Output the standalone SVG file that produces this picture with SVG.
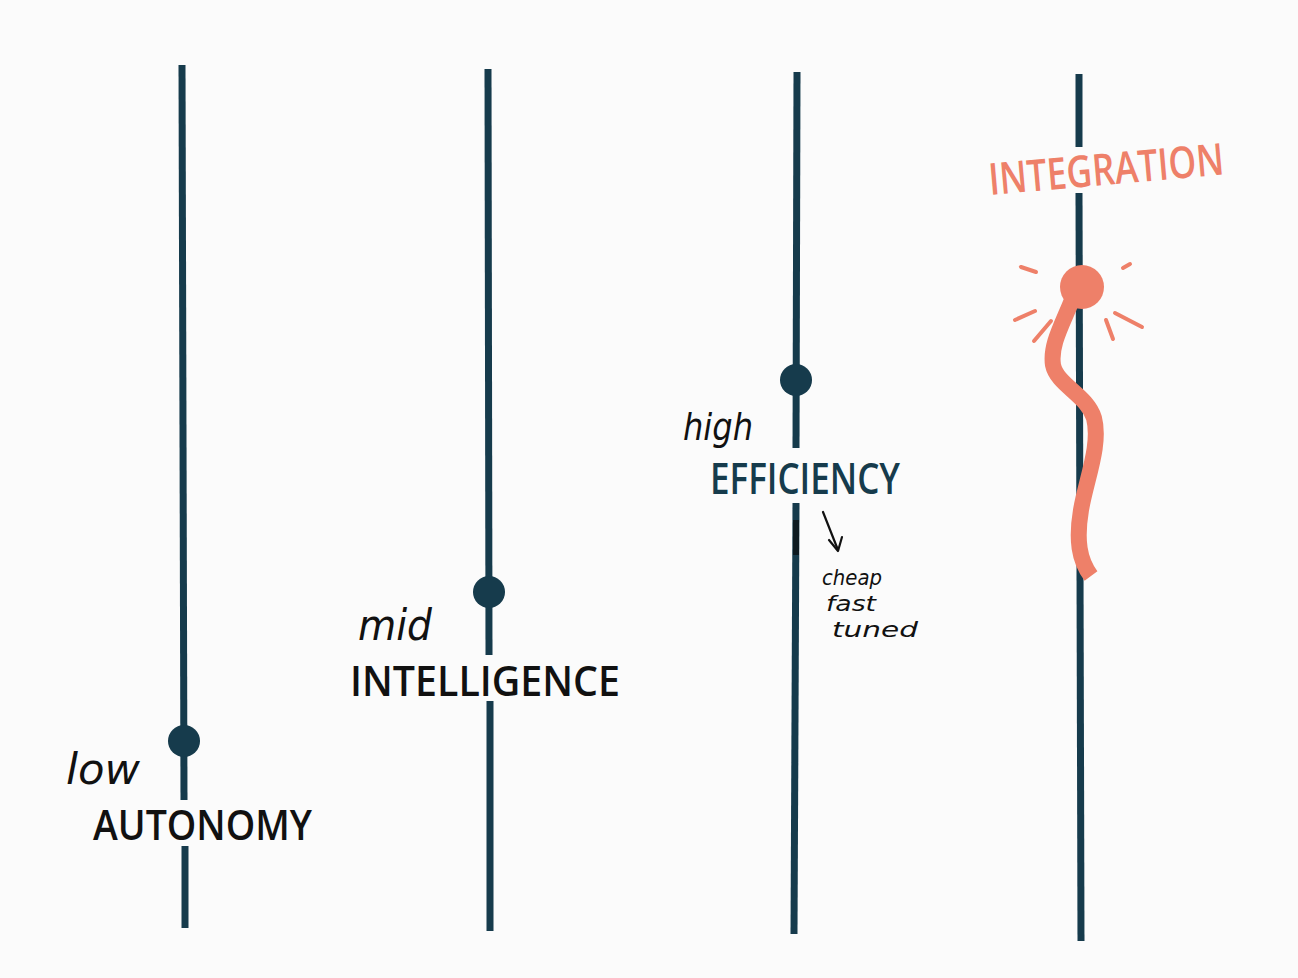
<svg xmlns="http://www.w3.org/2000/svg" width="1298" height="978" viewBox="0 0 1298 978">
<style>
.axis{stroke:#163b4c;stroke-width:7;stroke-linecap:butt;fill:none}
.dot{fill:#163b4c}
.hand{font-family:"DejaVu Sans",sans-serif;font-style:italic;fill:#111}
.caps{font-family:"Open Sans","Liberation Sans",sans-serif;font-weight:600;fill:#111}
.note{font-family:"DejaVu Sans",sans-serif;font-style:italic;fill:#111;font-size:22px}
.orange{stroke:#ee8069;stroke-linecap:round;fill:none}
</style>
<rect width="1298" height="978" fill="#fbfbfb"/>
<g id="connectors">
<line class="axis" x1="182" y1="65" x2="184" y2="800"/>
<line class="axis" x1="185" y1="846" x2="185" y2="928"/>
<line class="axis" x1="488" y1="69" x2="489" y2="655"/>
<line class="axis" x1="490" y1="701" x2="490" y2="931"/>
<line class="axis" x1="797" y1="72" x2="796" y2="448"/>
<line class="axis" x1="796" y1="503" x2="794" y2="934"/>
<line x1="796" y1="520" x2="796" y2="555" stroke="#0d1a20" stroke-width="6"/>
<line class="axis" x1="1079" y1="74" x2="1079" y2="147"/>
<line class="axis" x1="1079" y1="193" x2="1081" y2="941"/>
</g>
<g id="autonomy">
<circle class="dot" cx="184" cy="741" r="16"/>
<text class="hand" x="66" y="784" font-size="42" textLength="74" lengthAdjust="spacingAndGlyphs">low</text>
<text class="caps" x="93" y="840" font-size="42" textLength="219" lengthAdjust="spacingAndGlyphs">AUTONOMY</text>
</g>
<g id="intelligence">
<circle class="dot" cx="489" cy="592" r="16"/>
<text class="hand" x="358" y="640" font-size="42" textLength="74" lengthAdjust="spacingAndGlyphs">mid</text>
<text class="caps" x="350" y="696" font-size="42" textLength="270" lengthAdjust="spacingAndGlyphs">INTELLIGENCE</text>
</g>
<g id="efficiency">
<circle class="dot" cx="796" cy="380" r="16"/>
<text class="hand" x="683" y="440" font-size="38" textLength="70" lengthAdjust="spacingAndGlyphs">high</text>
<text class="caps" x="710" y="494" font-size="44" style="fill:#163b4c" textLength="190" lengthAdjust="spacingAndGlyphs">EFFICIENCY</text>
<line x1="823" y1="512" x2="838" y2="550" stroke="#111" stroke-width="2.2" stroke-linecap="round"/>
<polyline points="829,540 838,551 842,537" stroke="#111" stroke-width="2.2" fill="none" stroke-linecap="round" stroke-linejoin="round"/>
<text class="note" x="822" y="585" textLength="60" lengthAdjust="spacingAndGlyphs">cheap</text>
<text class="note" x="826" y="611" textLength="50" lengthAdjust="spacingAndGlyphs">fast</text>
<text class="note" x="832" y="637" textLength="86" lengthAdjust="spacingAndGlyphs">tuned</text>
</g>
<g id="integration">
<text x="990" y="195" transform="rotate(-5 990 195)" font-family="Open Sans, Liberation Sans, sans-serif" font-weight="600" font-size="44" fill="#ee8069" textLength="236" lengthAdjust="spacingAndGlyphs">INTEGRATION</text>
<path d="M1072,300 C1062,325 1050,345 1053,365 C1057,385 1087,395 1094,418 C1101,445 1086,480 1081,510 C1076,540 1079,560 1091,576" stroke="#ee8069" stroke-width="16" fill="none" stroke-linecap="butt"/>
<circle cx="1082" cy="287" r="22" fill="#ee8069"/>
<line class="orange" stroke-width="4" x1="1021" y1="267" x2="1036" y2="272"/>
<line class="orange" stroke-width="4" x1="1123" y1="268" x2="1130" y2="264"/>
<line class="orange" stroke-width="4" x1="1015" y1="320" x2="1035" y2="311"/>
<line class="orange" stroke-width="4" x1="1034" y1="341" x2="1051" y2="321"/>
<line class="orange" stroke-width="4" x1="1106" y1="320" x2="1113" y2="339"/>
<line class="orange" stroke-width="4" x1="1115" y1="313" x2="1142" y2="327"/>
</g>
</svg>
